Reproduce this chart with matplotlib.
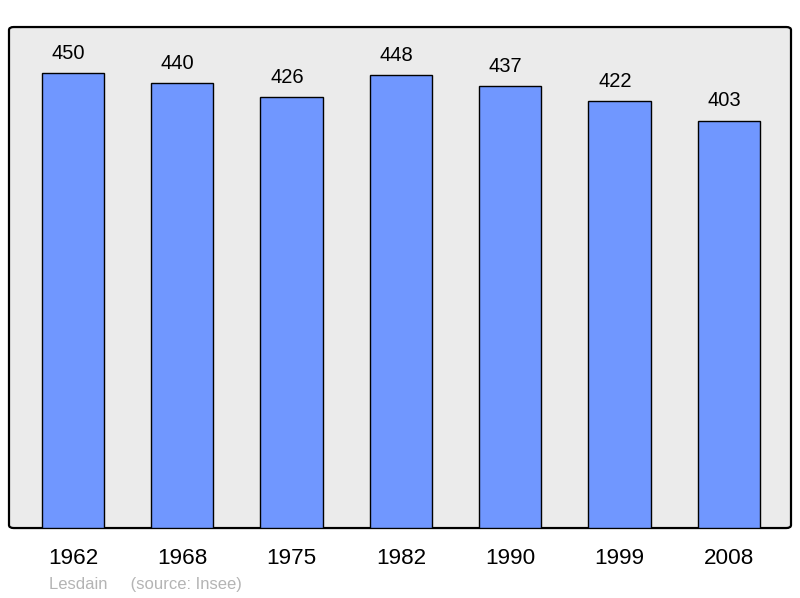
import matplotlib
matplotlib.use("Agg")
from matplotlib import pyplot as plt
from matplotlib.patches import FancyBboxPatch
import numpy as np

plt.rcParams['font.family'] = ['Liberation Sans', 'DejaVu Sans']

years = ["1962", "1968", "1975", "1982", "1990", "1999", "2008"]
population = [450, 440, 426, 448, 437, 422, 403]

fig = plt.figure(figsize=(8, 5.98), dpi=100)
ax = fig.add_axes([0.01125, 0.117, 0.9775, 0.8378])
ax.set_facecolor("none")

# rounded frame behind the bars
frame = FancyBboxPatch((0, 0), 1, 1, boxstyle="round,pad=0,rounding_size=0.006",
                       transform=ax.transAxes, facecolor="#ebebeb",
                       edgecolor="black", linewidth=1.6, zorder=0, clip_on=False)
ax.add_patch(frame)

x = np.arange(len(years))
bars = ax.bar(x, population, width=0.57, color="#7097ff", edgecolor="black",
              linewidth=1.0, zorder=2)

for xi, val in zip(x, population):
    ax.annotate(str(val), (xi, val), xytext=(-3.3, 7.5), textcoords="offset points",
                ha="center", va="bottom", fontsize=14.5, color="black")

ax.set_xlim(-0.585, 6.57)
ax.set_ylim(0, 495.5)
ax.set_xticks(x)
ax.set_xticklabels(years, fontsize=16.2)
ax.tick_params(axis="x", length=0, pad=14.5)
ax.set_yticks([])
for s in ax.spines.values():
    s.set_visible(False)

fig.text(49 / 800, 1 - 584 / 598, "Lesdain     (source: Insee)", fontsize=12,
         color="#b4b4b4", ha="left", va="center")

fig.savefig("out.png", dpi=100)
